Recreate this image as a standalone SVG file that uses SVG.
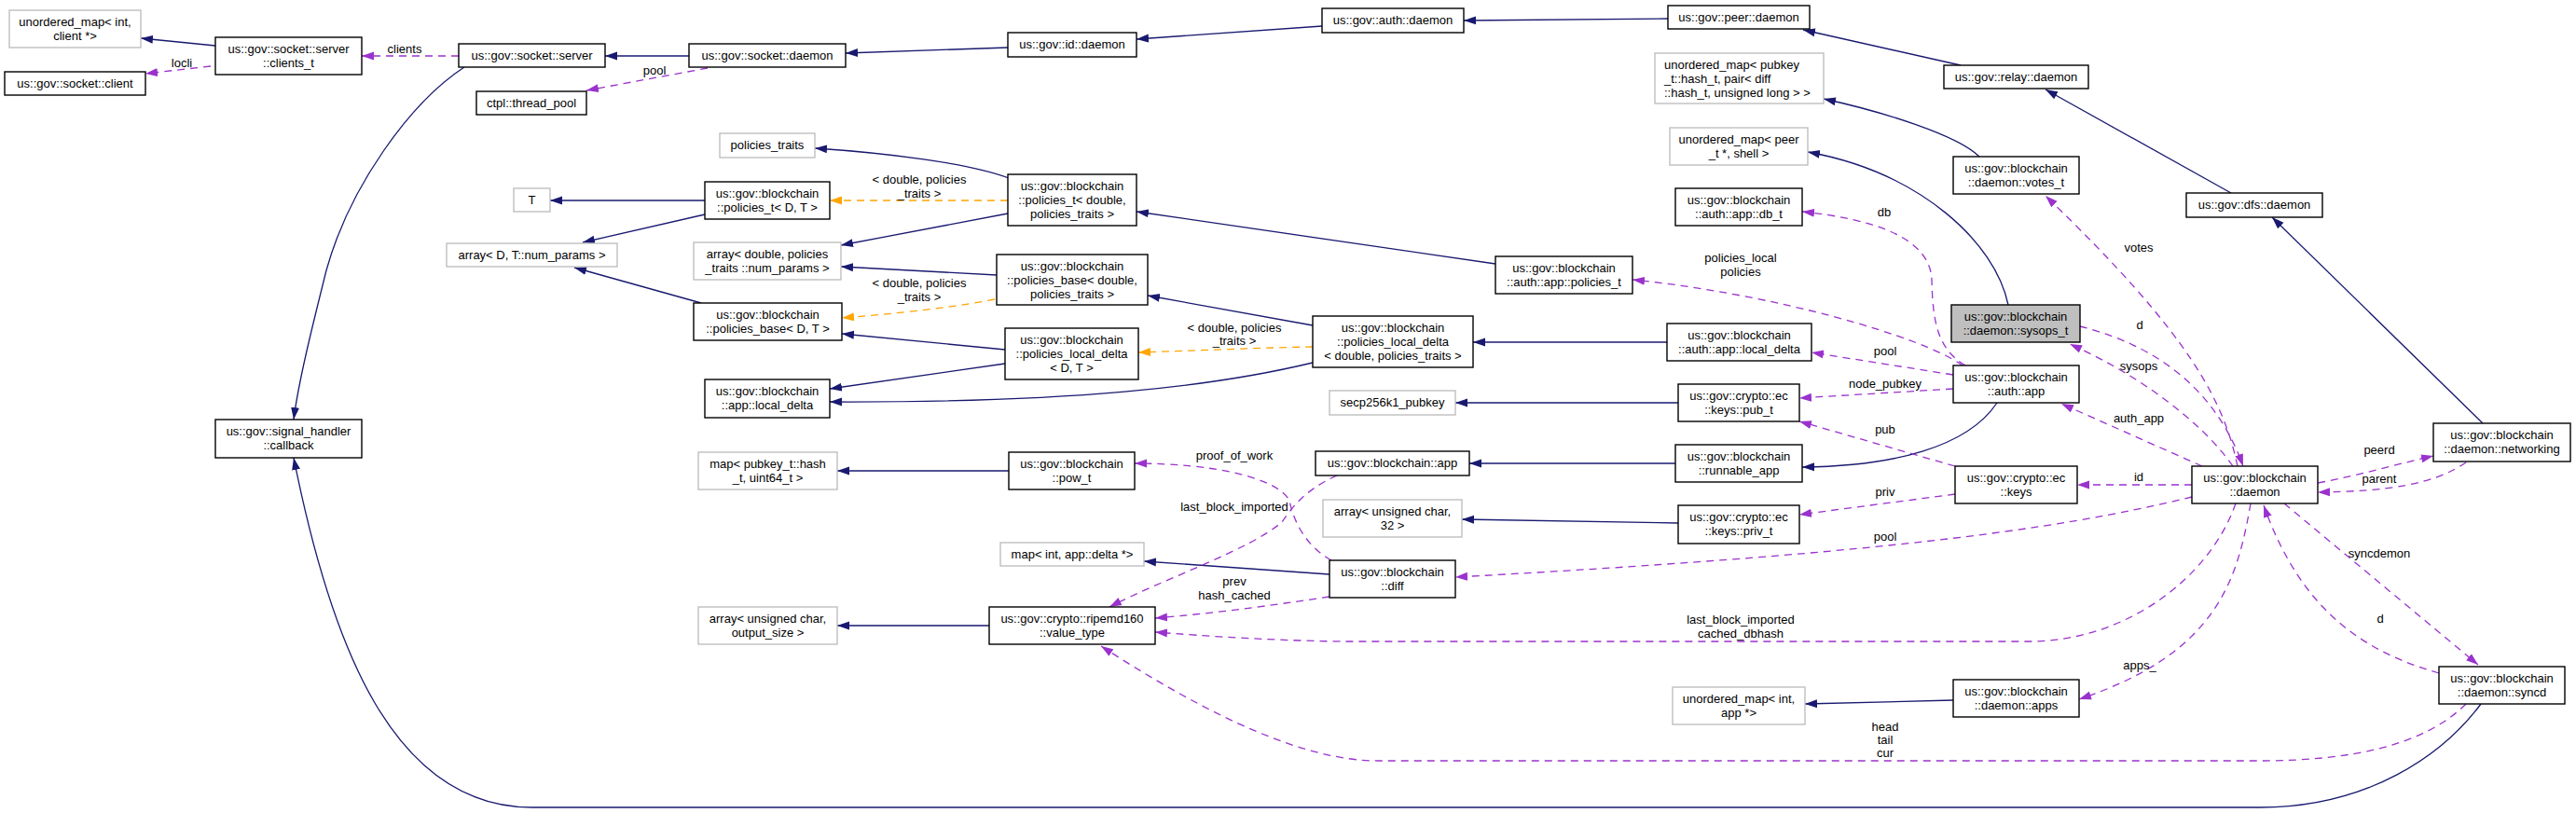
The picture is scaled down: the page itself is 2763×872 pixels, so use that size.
<svg xmlns="http://www.w3.org/2000/svg" width="2763" height="872" viewBox="0 0 2763 872">
<style>
text{font-family:"Liberation Sans",Arial,Helvetica,sans-serif;font-size:13px;fill:#000;text-anchor:middle}
.n rect{fill:#fff;stroke:#000;stroke-width:1.4}
.g rect{fill:#fff;stroke:#bfbfbf;stroke-width:1.4}
.f rect{fill:#bfbfbf;stroke:#000;stroke-width:1.4}
.b{fill:none;stroke:#191970;stroke-width:1.3;marker-end:url(#ab)}
.p{fill:none;stroke:#9a32cd;stroke-width:1.3;stroke-dasharray:8,6;marker-end:url(#ap)}
.o{fill:none;stroke:#ffa500;stroke-width:1.3;stroke-dasharray:8,6;marker-end:url(#ao)}
.l{text-anchor:start}
</style>
<defs>
<marker id="ab" markerUnits="userSpaceOnUse" markerWidth="14" markerHeight="10" refX="13" refY="5" orient="auto"><path d="M0,0.5 L13,5 L0,9.5 z" fill="#191970"/></marker>
<marker id="ap" markerUnits="userSpaceOnUse" markerWidth="14" markerHeight="10" refX="13" refY="5" orient="auto"><path d="M0,0.5 L13,5 L0,9.5 z" fill="#9a32cd"/></marker>
<marker id="ao" markerUnits="userSpaceOnUse" markerWidth="14" markerHeight="10" refX="13" refY="5" orient="auto"><path d="M0,0.5 L13,5 L0,9.5 z" fill="#ffa500"/></marker>
</defs>
<rect width="2763" height="872" fill="#fff"/>
<g id="connectors">
<path class="b" d="M231,49 L151,41"/>
<path class="p" d="M226,71 L156,79"/>
<path class="p" d="M492,60 L388,60"/>
<path class="b" d="M739,60 L649,60"/>
<path class="p" d="M759,73 L629,97"/>
<path class="b" d="M498,72 C440,110 375,200 350,290 C335,350 320,410 315,450"/>
<path class="b" d="M2661,755 C2620,810 2540,866 2424,866 L571,866 C421,866 355,691 315,491"/>
<path class="b" d="M1081,51 L907,57"/>
<path class="b" d="M1418,28 L1219,42"/>
<path class="b" d="M1789,20 L1570,22"/>
<path class="b" d="M2103,70 L1934,32"/>
<path class="b" d="M2393,207 L2194,96"/>
<path class="b" d="M2663,454 L2437,233"/>
<path class="b" d="M1082,191 C1040,175 950,164 874,159"/>
<path class="o" d="M1081,215 L890,215"/>
<path class="b" d="M1081,229 L902,263"/>
<path class="b" d="M756,215 L590,215"/>
<path class="b" d="M756,230 L625,260"/>
<path class="b" d="M752,325 L616,287"/>
<path class="b" d="M1069,295 L902,286"/>
<path class="o" d="M1067,321 C1010,332 950,337 903,341"/>
<path class="b" d="M1078,375 L903,358"/>
<path class="b" d="M1078,390 L890,417"/>
<path class="o" d="M1408,372 C1350,373 1280,376 1221,378"/>
<path class="b" d="M1408,389 C1300,415 1150,432 890,431"/>
<path class="b" d="M1408,349 L1231,317"/>
<path class="b" d="M1604,283 L1219,227"/>
<path class="b" d="M1788,367 L1580,367"/>
<path class="b" d="M1800,432 L1561,432"/>
<path class="b" d="M1797,497 L1576,497"/>
<path class="b" d="M1800,561 L1568,557"/>
<path class="b" d="M1082,505 L898,505"/>
<path class="b" d="M1061,671 L898,671"/>
<path class="b" d="M2142,432 C2110,480 2030,500 1933,501"/>
<path class="b" d="M2123,168 C2100,145 2020,120 1956,106"/>
<path class="b" d="M2154,327 C2140,260 2060,185 1939,163"/>
<path class="p" d="M2108,392 C2080,375 2073,350 2072,300 C2070,255 2010,235 1933,227"/>
<path class="p" d="M2105,392 C2060,360 1900,315 1751,300"/>
<path class="p" d="M2095,402 L1943,378"/>
<path class="p" d="M2095,417 L1930,427"/>
<path class="p" d="M2097,500 L1930,452"/>
<path class="p" d="M2097,530 L1930,552"/>
<path class="p" d="M2351,520 L2228,520"/>
<path class="p" d="M2362,500 L2211,433"/>
<path class="p" d="M2395,500 C2360,450 2290,400 2220,369"/>
<path class="p" d="M2231,350 C2290,365 2370,400 2406,500"/>
<path class="p" d="M2400,500 C2385,430 2350,360 2194,210"/>
<path class="p" d="M2486,518 C2530,510 2570,498 2610,489"/>
<path class="p" d="M2645,496 C2610,520 2560,527 2486,528"/>
<path class="p" d="M2414,540 C2400,620 2380,700 2230,750"/>
<path class="b" d="M2095,751 L1936,755"/>
<path class="p" d="M2450,540 L2658,713"/>
<path class="p" d="M2616,722 C2540,700 2470,660 2428,542"/>
<path class="p" d="M2398,540 C2370,620 2280,688 2176,688 L1450,688 C1380,688 1290,682 1239,678"/>
<path class="p" d="M2645,755 C2600,800 2520,816 2424,816 L1478,816 C1400,816 1300,770 1181,693"/>
<path class="p" d="M1426,640 C1360,650 1300,658 1239,663"/>
<path class="b" d="M1426,616 L1227,602"/>
<path class="p" d="M1428,601 C1400,585 1388,560 1383,537 C1370,512 1300,497 1217,497"/>
<path class="p" d="M1434,510 C1400,525 1385,545 1375,560 C1340,590 1250,620 1190,651"/>
<path class="p" d="M2351,533 C2200,570 2000,595 1561,619"/>
<text x="434" y="56.5">clients</text>
<text x="195" y="71.5">locli</text>
<text x="702" y="79.5">pool</text>
<text x="986" y="196.5">&lt; double, policies</text>
<text x="986" y="211.5">_traits &gt;</text>
<text x="986" y="307.5">&lt; double, policies</text>
<text x="986" y="322.5">_traits &gt;</text>
<text x="1324" y="355.5">&lt; double, policies</text>
<text x="1324" y="369.5">_traits &gt;</text>
<text x="2021" y="231.5">db</text>
<text x="1867" y="280.5">policies_local</text>
<text x="1867" y="295.5">policies</text>
<text x="2294" y="269.5">votes</text>
<text x="2295" y="352.5">d</text>
<text x="2294" y="396.5">sysops</text>
<text x="2294" y="452.5">auth_app</text>
<text x="2294" y="515.5">id</text>
<text x="2022" y="380.5">pool</text>
<text x="2022" y="415.5">node_pubkey</text>
<text x="2022" y="464.5">pub</text>
<text x="2022" y="531.5">priv</text>
<text x="2022" y="579.5">pool</text>
<text x="2552" y="486.5">peerd</text>
<text x="2552" y="517.5">parent</text>
<text x="1324" y="492.5">proof_of_work</text>
<text x="1324" y="547.5">last_block_imported</text>
<text x="1324" y="627.5">prev</text>
<text x="1324" y="642.5">hash_cached</text>
<text x="1867" y="668.5">last_block_imported</text>
<text x="1867" y="683.5">cached_dbhash</text>
<text x="2022" y="783.5">head</text>
<text x="2022" y="797.5">tail</text>
<text x="2022" y="811.5">cur</text>
<text x="2552" y="597.5">syncdemon</text>
<text x="2553" y="667.5">d</text>
<text x="2295" y="717.5">apps_</text>
</g>
<g id="n1" class="g"><rect x="10" y="11" width="141" height="40"/><text x="80.5" y="28">unordered_map&lt; int,</text><text x="80.5" y="43">client *&gt;</text></g>
<g id="n2" class="n"><rect x="231" y="40" width="157" height="40"/><text x="309.5" y="57">us::gov::socket::server</text><text x="309.5" y="72">::clients_t</text></g>
<g id="n3" class="n"><rect x="5" y="77" width="151" height="25"/><text x="80.5" y="94">us::gov::socket::client</text></g>
<g id="n4" class="n"><rect x="492" y="47" width="157" height="25"/><text x="570.5" y="64">us::gov::socket::server</text></g>
<g id="n5" class="n"><rect x="511" y="98" width="118" height="25"/><text x="570" y="115">ctpl::thread_pool</text></g>
<g id="n6" class="g"><rect x="551" y="202" width="39" height="25"/><text x="570.5" y="219">T</text></g>
<g id="n7" class="g"><rect x="479" y="261" width="183" height="25"/><text x="570.5" y="278">array&lt; D, T::num_params &gt;</text></g>
<g id="n8" class="n"><rect x="739" y="47" width="168" height="25"/><text x="823" y="64">us::gov::socket::daemon</text></g>
<g id="n9" class="n"><rect x="1081" y="35" width="138" height="26"/><text x="1150" y="52">us::gov::id::daemon</text></g>
<g id="n10" class="g"><rect x="772" y="143" width="102" height="26"/><text x="823" y="160">policies_traits</text></g>
<g id="n11" class="n"><rect x="756" y="195" width="134" height="40"/><text x="823" y="212">us::gov::blockchain</text><text x="823" y="227">::policies_t&lt; D, T &gt;</text></g>
<g id="n12" class="n"><rect x="1081" y="187" width="138" height="55"/><text x="1150" y="204">us::gov::blockchain</text><text x="1150" y="219">::policies_t&lt; double,</text><text x="1150" y="234">policies_traits &gt;</text></g>
<g id="n13" class="g"><rect x="744" y="260" width="158" height="40"/><text x="823" y="277">array&lt; double, policies</text><text x="823" y="292">_traits ::num_params &gt;</text></g>
<g id="n14" class="n"><rect x="1069" y="273" width="162" height="54"/><text x="1150" y="290">us::gov::blockchain</text><text x="1150" y="305">::policies_base&lt; double,</text><text x="1150" y="320">policies_traits &gt;</text></g>
<g id="n15" class="n"><rect x="1418" y="9" width="152" height="26"/><text x="1494" y="26">us::gov::auth::daemon</text></g>
<g id="n16" class="n"><rect x="1789" y="6" width="152" height="25"/><text x="1865" y="23">us::gov::peer::daemon</text></g>
<g id="n17" class="g"><rect x="1775" y="57" width="181" height="54"/><text class="l" x="1785" y="74">unordered_map&lt; pubkey</text><text class="l" x="1785" y="89">_t::hash_t, pair&lt; diff</text><text class="l" x="1785" y="104">::hash_t, unsigned long &gt; &gt;</text></g>
<g id="n18" class="g"><rect x="1791" y="137" width="148" height="40"/><text x="1865" y="154">unordered_map&lt; peer</text><text x="1865" y="169">_t *, shell &gt;</text></g>
<g id="n19" class="n"><rect x="1797" y="202" width="136" height="40"/><text x="1865" y="219">us::gov::blockchain</text><text x="1865" y="234">::auth::app::db_t</text></g>
<g id="n20" class="n"><rect x="1604" y="275" width="147" height="40"/><text x="1677.5" y="292">us::gov::blockchain</text><text x="1677.5" y="307">::auth::app::policies_t</text></g>
<g id="n21" class="n"><rect x="2085" y="70" width="155" height="25"/><text x="2162.5" y="87">us::gov::relay::daemon</text></g>
<g id="n22" class="n"><rect x="2095" y="168" width="135" height="40"/><text x="2162.5" y="185">us::gov::blockchain</text><text x="2162.5" y="200">::daemon::votes_t</text></g>
<g id="n23" class="n"><rect x="2345" y="207" width="146" height="26"/><text x="2418" y="224">us::gov::dfs::daemon</text></g>
<g id="n24" class="n"><rect x="231" y="450" width="157" height="41"/><text x="309.5" y="467">us::gov::signal_handler</text><text x="309.5" y="482">::callback</text></g>
<g id="n25" class="n"><rect x="744" y="325" width="159" height="40"/><text x="823.5" y="342">us::gov::blockchain</text><text x="823.5" y="357">::policies_base&lt; D, T &gt;</text></g>
<g id="n26" class="n"><rect x="1078" y="352" width="143" height="55"/><text x="1149.5" y="369">us::gov::blockchain</text><text x="1149.5" y="384">::policies_local_delta</text><text x="1149.5" y="399">&lt; D, T &gt;</text></g>
<g id="n27" class="n"><rect x="756" y="407" width="134" height="41"/><text x="823" y="424">us::gov::blockchain</text><text x="823" y="439">::app::local_delta</text></g>
<g id="n28" class="g"><rect x="749" y="485" width="149" height="40"/><text x="823.5" y="502">map&lt; pubkey_t::hash</text><text x="823.5" y="517">_t, uint64_t &gt;</text></g>
<g id="n29" class="n"><rect x="1082" y="485" width="135" height="40"/><text x="1149.5" y="502">us::gov::blockchain</text><text x="1149.5" y="517">::pow_t</text></g>
<g id="n30" class="n"><rect x="1408" y="339" width="172" height="55"/><text x="1494" y="356">us::gov::blockchain</text><text x="1494" y="371">::policies_local_delta</text><text x="1494" y="386">&lt; double, policies_traits &gt;</text></g>
<g id="n31" class="n"><rect x="1788" y="347" width="155" height="40"/><text x="1865.5" y="364">us::gov::blockchain</text><text x="1865.5" y="379">::auth::app::local_delta</text></g>
<g id="n32" class="g"><rect x="1426" y="419" width="135" height="26"/><text x="1493.5" y="436">secp256k1_pubkey</text></g>
<g id="n33" class="n"><rect x="1800" y="412" width="130" height="40"/><text x="1865" y="429">us::gov::crypto::ec</text><text x="1865" y="444">::keys::pub_t</text></g>
<g id="n34" class="n"><rect x="1411" y="484" width="165" height="26"/><text x="1493.5" y="501">us::gov::blockchain::app</text></g>
<g id="n35" class="n"><rect x="1797" y="477" width="136" height="40"/><text x="1865" y="494">us::gov::blockchain</text><text x="1865" y="509">::runnable_app</text></g>
<g id="n36" class="g"><rect x="1419" y="536" width="149" height="40"/><text x="1493.5" y="553">array&lt; unsigned char,</text><text x="1493.5" y="568">32 &gt;</text></g>
<g id="n37" class="n"><rect x="1800" y="542" width="130" height="41"/><text x="1865" y="559">us::gov::crypto::ec</text><text x="1865" y="574">::keys::priv_t</text></g>
<g id="n38" class="f"><rect x="2093" y="327" width="138" height="40"/><text x="2162" y="344">us::gov::blockchain</text><text x="2162" y="359">::daemon::sysops_t</text></g>
<g id="n39" class="n"><rect x="2095" y="392" width="135" height="40"/><text x="2162.5" y="409">us::gov::blockchain</text><text x="2162.5" y="424">::auth::app</text></g>
<g id="n40" class="n"><rect x="2097" y="500" width="131" height="40"/><text x="2162.5" y="517">us::gov::crypto::ec</text><text x="2162.5" y="532">::keys</text></g>
<g id="n41" class="n"><rect x="2351" y="500" width="135" height="40"/><text x="2418.5" y="517">us::gov::blockchain</text><text x="2418.5" y="532">::daemon</text></g>
<g id="n42" class="n"><rect x="2610" y="454" width="147" height="41"/><text x="2683.5" y="471">us::gov::blockchain</text><text x="2683.5" y="486">::daemon::networking</text></g>
<g id="n43" class="g"><rect x="1073" y="582" width="154" height="25"/><text x="1150" y="599">map&lt; int, app::delta *&gt;</text></g>
<g id="n44" class="g"><rect x="749" y="651" width="149" height="40"/><text x="823.5" y="668">array&lt; unsigned char,</text><text x="823.5" y="683">output_size &gt;</text></g>
<g id="n45" class="n"><rect x="1061" y="651" width="178" height="40"/><text x="1150" y="668">us::gov::crypto::ripemd160</text><text x="1150" y="683">::value_type</text></g>
<g id="n46" class="n"><rect x="1426" y="601" width="135" height="40"/><text x="1493.5" y="618">us::gov::blockchain</text><text x="1493.5" y="633">::diff</text></g>
<g id="n47" class="g"><rect x="1794" y="737" width="142" height="40"/><text x="1865" y="754">unordered_map&lt; int,</text><text x="1865" y="769">app *&gt;</text></g>
<g id="n48" class="n"><rect x="2095" y="729" width="135" height="40"/><text x="2162.5" y="746">us::gov::blockchain</text><text x="2162.5" y="761">::daemon::apps</text></g>
<g id="n49" class="n"><rect x="2616" y="715" width="135" height="40"/><text x="2683.5" y="732">us::gov::blockchain</text><text x="2683.5" y="747">::daemon::syncd</text></g>
</svg>
